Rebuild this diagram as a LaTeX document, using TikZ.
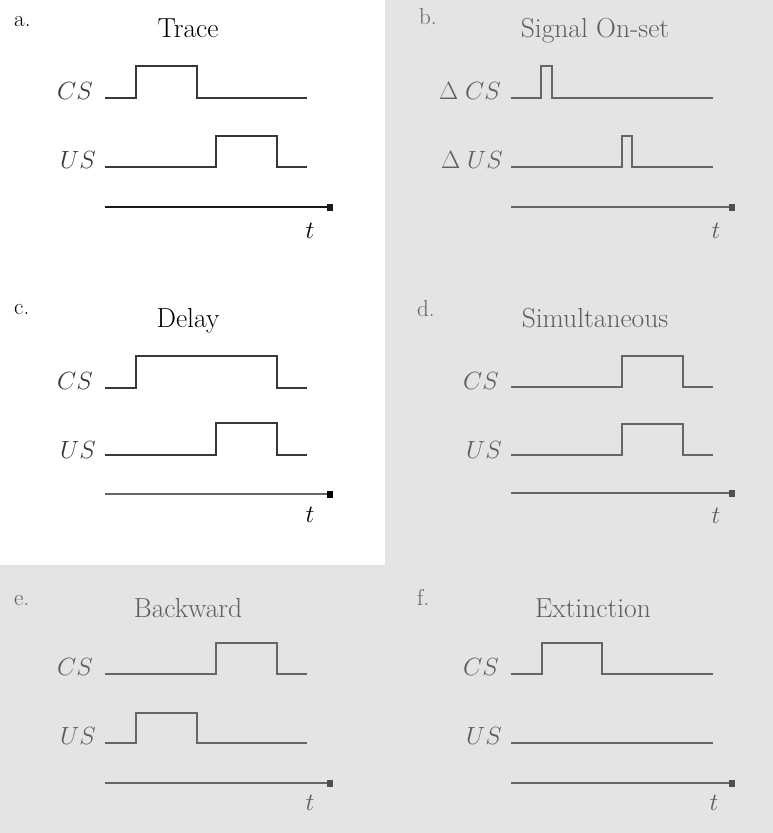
\documentclass[tikz,border=0pt]{standalone}
\usetikzlibrary{arrows.meta}

\definecolor{panelbg}{HTML}{E4E4E4}
\definecolor{inkdark}{HTML}{383838}
\definecolor{inkgray}{HTML}{666666}
\definecolor{txtgray}{HTML}{5E5E5E}
\definecolor{tipgray}{HTML}{505050}

\tikzset{
  trace/.style={line width=2.7pt, line join=miter},
  timeaxis/.style={line width=2.7pt, -{Square[length=6pt,width=7pt]}},
  ttl/.style={font=\fontsize{27.5}{30}\selectfont, anchor=base},
  sig/.style={font=\fontsize{30}{32}\selectfont, anchor=base east, inner sep=0pt},
  tvar/.style={font=\fontsize{30}{32}\selectfont, anchor=base, inner sep=0pt},
  tag/.style={font=\fontsize{23}{25}\selectfont, anchor=base west, inner sep=0pt},
}

\begin{document}
\begin{tikzpicture}[x=1pt, y=-1pt]
  % page background and the white first column block
  \useasboundingbox (0,0) rectangle (773,833);
  \fill[panelbg] (0,0) rectangle (773,833);
  \fill[white] (0,0) rectangle (385,565);

  % a. Trace
  \begin{scope}
    \node[tag] (a-tag) at (14,26) {a.};
    \node[ttl] (a-title) at (188,37) {Trace};
    \node[sig, text=inkdark] (a-cs) at (93,99) {$CS$};
    \node[sig, text=inkdark] (a-us) at (96,168) {$US$};
    \draw[trace, inkdark] (105,98) -| (136,66) -| (197,98) -- (307,98);
    \draw[trace, inkdark] (105,167) -| (216,136) -| (277,167) -- (307,167);
    \draw[timeaxis, black!90] (105,207) -- (333,207);
    \node[tvar] (a-t) at (310,238) {$t$};
  \end{scope}

  % b. Signal On-set
  \begin{scope}[shift={(406,0)}, txtgray]
    \node[tag] (b-tag) at (13,24) {b.};
    \node[ttl] (b-title) at (189,37) {Signal On-set};
    \node[sig] (b-cs) at (95,99) {$\Delta\;CS$};
    \node[sig] (b-us) at (97,168) {$\Delta\;US$};
    \draw[trace, inkgray] (105,98) -| (135,66) -| (146,98) -- (307,98);
    \draw[trace, inkgray] (105,167) -| (216,136) -| (226,167) -- (307,167);
    \draw[timeaxis, inkgray, -{Square[length=6pt,width=7pt,fill=tipgray,color=tipgray]}] (105,207) -- (329,207);
    \node[tvar] (b-t) at (310,238) {$t$};
  \end{scope}

  % c. Delay
  \begin{scope}[shift={(0,290)}]
    \node[tag] (c-tag) at (14,24) {c.};
    \node[ttl] (c-title) at (188,37) {Delay};
    \node[sig, text=inkdark] (c-cs) at (93,99) {$CS$};
    \node[sig, text=inkdark] (c-us) at (96,168) {$US$};
    \draw[trace, inkdark] (105,98) -| (136,66) -| (277,98) -- (307,98);
    \draw[trace, inkdark] (105,165) -| (216,133) -| (277,165) -- (307,165);
    \draw[timeaxis, inkgray, -{Square[length=6pt,width=7pt,fill=black,color=black]}] (105,204) -- (333,204);
    \node[tvar] (c-t) at (310,232) {$t$};
  \end{scope}

  % d. Simultaneous
  \begin{scope}[shift={(406,290)}, txtgray]
    \node[tag] (d-tag) at (11,26) {d.};
    \node[ttl] (d-title) at (189,37) {Simultaneous};
    \node[sig] (d-cs) at (93,99) {$CS$};
    \node[sig] (d-us) at (96,168) {$US$};
    \draw[trace, inkgray] (105,97) -| (216,66) -| (277,97) -- (307,97);
    \draw[trace, inkgray] (105,165) -| (216,134) -| (277,165) -- (307,165);
    \draw[timeaxis, inkgray, -{Square[length=6pt,width=7pt,fill=tipgray,color=tipgray]}] (105,203) -- (329,203);
    \node[tvar] (d-t) at (310,233) {$t$};
  \end{scope}

  % e. Backward
  \begin{scope}[shift={(0,576)}, txtgray]
    \node[tag] (e-tag) at (14,29) {e.};
    \node[ttl] (e-title) at (188,41) {Backward};
    \node[sig] (e-cs) at (93,99) {$CS$};
    \node[sig] (e-us) at (96,168) {$US$};
    \draw[trace, inkgray] (105,98) -| (216,67) -| (277,98) -- (307,98);
    \draw[trace, inkgray] (105,167) -| (136,137) -| (197,167) -- (307,167);
    \draw[timeaxis, inkgray, -{Square[length=6pt,width=7pt,fill=tipgray,color=tipgray]}] (105,207) -- (333,207);
    \node[tvar] (e-t) at (310,234) {$t$};
  \end{scope}

  % f. Extinction
  \begin{scope}[shift={(406,576)}, txtgray]
    \node[tag] (f-tag) at (11,29) {f.};
    \node[ttl] (f-title) at (187,41) {Extinction};
    \node[sig] (f-cs) at (93,99) {$CS$};
    \node[sig] (f-us) at (96,168) {$US$};
    \draw[trace, inkgray] (105,98) -| (136,67) -| (196,98) -- (307,98);
    \draw[trace, inkgray] (105,167) -- (307,167);
    \draw[timeaxis, inkgray, -{Square[length=6pt,width=7pt,fill=tipgray,color=tipgray]}] (105,207) -- (329,207);
    \node[tvar] (f-t) at (308,234) {$t$};
  \end{scope}
\end{tikzpicture}
\end{document}
